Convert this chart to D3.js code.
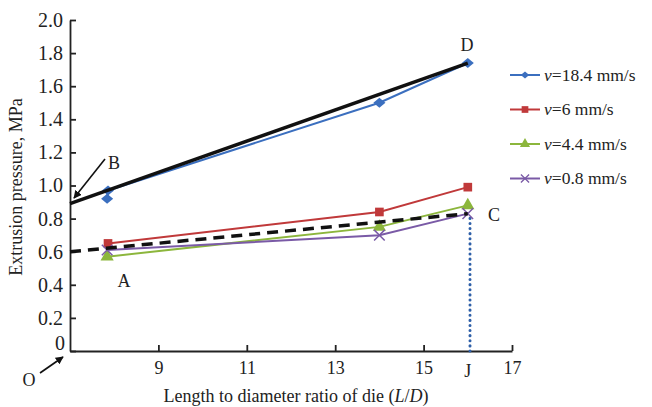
<!DOCTYPE html>
<html>
<head>
<meta charset="utf-8">
<script src="https://cdn.jsdelivr.net/npm/d3@7"></script>
<style>
body { margin: 0; background: #fff; }
svg text { font-family: "Liberation Serif", "Times New Roman", serif; fill: #222; }
.axis path, .axis line { stroke: #222; stroke-width: 1.8; }
</style>
</head>
<body>
<svg width="652" height="407"></svg>
<script>
// data
const seriesNames = ["18.4", "6", "4.4", "0.8"]
const colors = ["#3b6fbf", "#c0393a", "#8cb63c", "#7a5aa6"]
const v184 = [[7.84, 0.92], [7.86, 0.97], [14, 1.50], [16, 1.74]]
const v6 = [[7.86, 0.65], [14, 0.84], [16, 0.99]]
const v44 = [[7.84, 0.57], [14, 0.75], [16, 0.88]]
const v08 = [[7.84, 0.61], [14, 0.70], [16, 0.83]]
const solidFit = [[7, 0.89], [16, 1.74]]
const dashedFit = [[7, 0.60], [16, 0.83]]
const xTicks = [9, 11, 13, 15, 17]
const yTicks = [0, 0.2, 0.4, 0.6, 0.8, 1.0, 1.2, 1.4, 1.6, 1.8, 2.0]
const allSeries = [v184, v6, v44, v08]

// squat diamond like the excel marker
var wideDiamond = {
	draw: function(ctx, size) {
		var h = Math.sqrt(size) / 2
		ctx.moveTo(0, -h * 0.9)
		ctx.lineTo(h * 1.1, 0)
		ctx.lineTo(0, h * 0.9)
		ctx.lineTo(-h * 1.1, 0)
		ctx.closePath()
	}
}
const symbols = [wideDiamond, d3.symbolSquare, d3.symbolTriangle, d3.symbolX]

var svg = d3.select("svg")

var x = d3.scaleLinear().domain([7, 17]).range([70, 512])
var y = d3.scaleLinear().domain([0, 2]).range([351, 20])

// axes, ticks pointing inward
var xAxis = svg.append("g")
   .attr("class", "axis")
   .attr("transform", "translate(0," + y(0) + ")")
   .call(d3.axisBottom(x).tickValues(xTicks).tickSize(-6).tickSizeOuter(0).tickPadding(10))
xAxis.selectAll("text").style("font-size", "18px")

var yAxis = svg.append("g")
   .attr("class", "axis")
   .attr("transform", "translate(" + x(7) + ",0)")
   .call(d3.axisLeft(y).tickValues(yTicks).tickSize(-6).tickSizeOuter(0).tickPadding(7)
          .tickFormat(function(d) { return d === 0 ? "0" : d3.format(".1f")(d) }))
yAxis.selectAll("text").style("font-size", "20px")
yAxis.selectAll(".tick").filter(function(d) { return d === 0 })
     .select("text").attr("dy", "-0.1em").attr("x", -5)

// J label
svg.append("text")
   .attr("x", x(16)).attr("y", y(0) + 26)
   .attr("text-anchor", "middle")
   .style("font-size", "18px")
   .text("J")

// axis titles
var xt = svg.append("text")
   .attr("x", 296).attr("y", 402)
   .attr("text-anchor", "middle")
   .style("font-size", "18px")
xt.append("tspan").text("Length to diameter ratio of die (")
xt.append("tspan").style("font-style", "italic").text("L")
xt.append("tspan").text("/")
xt.append("tspan").style("font-style", "italic").text("D")
xt.append("tspan").text(")")

svg.append("text")
   .attr("transform", "translate(22,187) rotate(-90)")
   .attr("text-anchor", "middle")
   .style("font-size", "18px")
   .text("Extrusion pressure, MPa")

// dotted drop line at J
svg.append("line")
   .attr("x1", x(16.05)).attr("x2", x(16.05))
   .attr("y1", y(0)).attr("y2", y(0.82))
   .attr("stroke", "#2e5fa8").attr("stroke-width", 3)
   .attr("stroke-linecap", "round")
   .attr("stroke-dasharray", "0.1,5")

var line = d3.line()
   .x(function(d) { return x(d[0]) })
   .y(function(d) { return y(d[1]) })

// series
allSeries.forEach(function(data, i) {
	svg.append("path")
	   .datum(data)
	   .attr("d", line)
	   .attr("fill", "none")
	   .attr("stroke", colors[i])
	   .attr("stroke-width", 2)
	svg.selectAll(".pt" + i)
	   .data(data)
	   .enter()
	   .append("path")
	   .attr("transform", function(d) { return "translate(" + x(d[0]) + "," + y(d[1]) + ")" })
	   .attr("d", d3.symbol().type(symbols[i]).size(i === 0 ? 120 : 75))
	   .attr("fill", i === 3 ? "none" : colors[i])
	   .attr("stroke", colors[i])
	   .attr("stroke-width", i === 3 ? 1.5 : 0)
})

// fitted lines
svg.append("path")
   .datum(solidFit)
   .attr("d", line)
   .attr("fill", "none")
   .attr("stroke", "#111")
   .attr("stroke-width", 3.5)

svg.append("path")
   .datum(dashedFit)
   .attr("d", line)
   .attr("fill", "none")
   .attr("stroke", "#111")
   .attr("stroke-width", 3.5)
   .attr("stroke-dasharray", "11,7")

// annotations
svg.append("defs").append("marker")
   .attr("id", "arrow")
   .attr("viewBox", "0 0 10 10")
   .attr("refX", 9).attr("refY", 5)
   .attr("markerWidth", 5).attr("markerHeight", 5)
   .attr("orient", "auto")
   .append("path").attr("d", "M0,0L10,5L0,10z").attr("fill", "#111")

function arrow(x1, y1, x2, y2) {
	svg.append("line")
	   .attr("x1", x1).attr("y1", y1).attr("x2", x2).attr("y2", y2)
	   .attr("stroke", "#111").attr("stroke-width", 1.6)
	   .attr("marker-end", "url(#arrow)")
}
arrow(105, 159, 74, 198)
arrow(40, 373, 63, 357)

var labels = [["B", 114, 169], ["D", 467, 51], ["A", 124, 287], ["C", 494, 221], ["O", 29, 386]]
svg.selectAll(".lbl")
   .data(labels)
   .enter()
   .append("text")
   .attr("x", function(d) { return d[1] })
   .attr("y", function(d) { return d[2] })
   .attr("text-anchor", "middle")
   .style("font-size", "18px")
   .text(function(d) { return d[0] })

// legend
var legend = svg.selectAll(".legend")
   .data(seriesNames)
   .enter()
   .append("g")
   .attr("transform", function(d, i) { return "translate(510," + (75 + i * 34.5) + ")" })

legend.append("line")
   .attr("x1", 0).attr("x2", 30)
   .attr("stroke", function(d, i) { return colors[i] })
   .attr("stroke-width", 2)
legend.append("path")
   .attr("transform", "translate(15,0)")
   .attr("d", function(d, i) { return d3.symbol().type(symbols[i]).size(i === 0 ? 60 : 45)() })
   .attr("fill", function(d, i) { return i === 3 ? "none" : colors[i] })
   .attr("stroke", function(d, i) { return colors[i] })
   .attr("stroke-width", function(d, i) { return i === 3 ? 1.3 : 0 })
var lt = legend.append("text")
   .attr("x", 34).attr("y", 5.5)
   .style("font-size", "17.5px")
lt.append("tspan").style("font-style", "italic").text("v")
lt.append("tspan").text(function(d) { return "=" + d + " mm/s" })
</script>
</body>
</html>
